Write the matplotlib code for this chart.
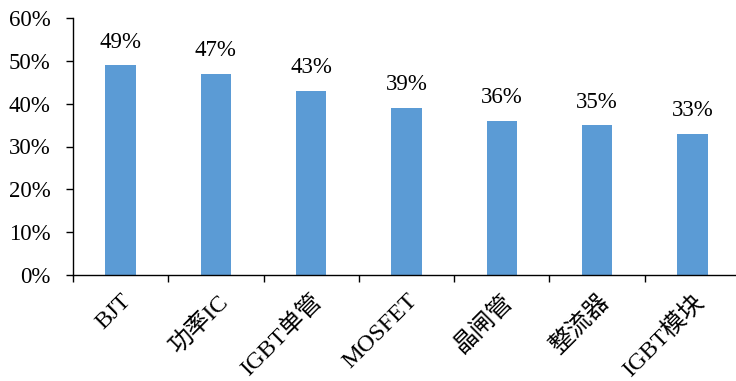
import matplotlib
matplotlib.use("Agg")
import matplotlib.pyplot as plt
from matplotlib.ticker import PercentFormatter, FixedLocator

categories = ["BJT", "功率IC", "IGBT单管", "MOSFET", "晶闸管", "整流器", "IGBT模块"]
values = [49, 47, 43, 39, 36, 35, 33]
yticks = [0, 10, 20, 30, 40, 50, 60]

fonts = ["Liberation Serif", "Noto Sans CJK SC"]
plt.rcParams["font.family"] = fonts

fig = plt.figure(figsize=(7.36, 3.81), dpi=100)
ax = fig.add_axes([73 / 736, 1 - 275 / 381, 667 / 736, (275 - 18) / 381])

x = list(range(len(categories)))
bars = ax.bar(x, values, width=0.32, color="#5B9BD5")

for xi, v in zip(x, values):
    ax.annotate(f"{v}%", (xi, v), xytext=(0, 9), textcoords="offset points",
                ha="center", va="bottom", fontsize=16.5)

ax.set_xlim(-0.5, len(categories) - 0.5)
ax.set_ylim(0, 60)
ax.set_yticks(yticks)
ax.yaxis.set_major_formatter(PercentFormatter(decimals=0))
ax.tick_params(axis="y", labelsize=16.5, direction="out", length=5, width=1, pad=11)

# ticks between categories, labels at the category centres
ax.xaxis.set_major_locator(FixedLocator([i - 0.5 for i in range(len(categories) + 1)]))
ax.xaxis.set_major_formatter(plt.NullFormatter())
ax.xaxis.set_minor_locator(FixedLocator(x))
ax.set_xticklabels(categories, minor=True, rotation=45, ha="right",
                   rotation_mode="anchor", fontsize=17.5)
ax.tick_params(axis="x", which="major", direction="out", length=5, width=1)
ax.tick_params(axis="x", which="minor", length=0, pad=11)

for side in ["top", "right"]:
    ax.spines[side].set_visible(False)
for side in ["left", "bottom"]:
    ax.spines[side].set_linewidth(1)

fig.savefig("out.png", dpi=100)
